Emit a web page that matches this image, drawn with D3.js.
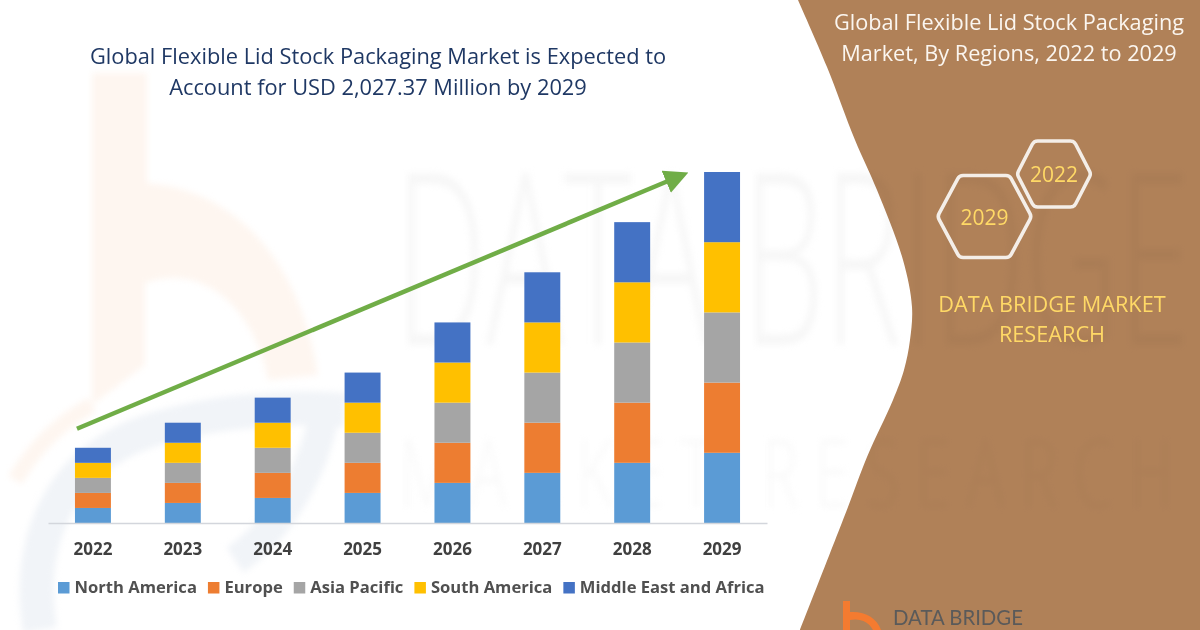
<!DOCTYPE html>
<html>
<head>
<meta charset="utf-8">
<script src="https://cdn.jsdelivr.net/npm/d3@7"></script>
<style>
    html, body { margin: 0; padding: 0; background: #fff; }
    svg { display: block; font-family: "Open Sans", sans-serif; }
</style>
</head>
<body>
<svg id="chart" width="1200" height="630"></svg>
<script>
// values are read off the bar heights, the picture has no value axis
const years = ['2022', '2023', '2024', '2025', '2026', '2027', '2028', '2029']
const northAmerica = [15, 20, 25, 30, 40, 50, 60, 70]
const europe = [15, 20, 25, 30, 40, 50, 60, 70]
const asiaPacific = [15, 20, 25, 30, 40, 50, 60, 70]
const southAmerica = [15, 20, 25, 30, 40, 50, 60, 70]
const middleEastAfrica = [15, 20, 25, 30, 40, 50, 60, 70]
const regions = ['North America', 'Europe', 'Asia Pacific', 'South America', 'Middle East and Africa']
const regionColors = ['#5B9BD5', '#ED7D31', '#A5A5A5', '#FFC000', '#4472C4']
const regionValues = [northAmerica, europe, asiaPacific, southAmerica, middleEastAfrica]
const arrowYears = ['2022', '2029']
const arrowValues = [94, 350]

const titleLines = ['Global Flexible Lid Stock Packaging Market is Expected to', 'Account for USD 2,027.37 Million by 2029']
const panelLines = ['Global Flexible Lid Stock Packaging', 'Market, By Regions, 2022 to 2029']
const brandLines = ['DATA BRIDGE MARKET', 'RESEARCH']

const svg = d3.select('#chart')

// brown panel on the right
const panelEdge = [[798, 0], [827, 67], [855, 140], [877, 190], [903, 260], [912, 307], [910, 340],
    [904, 370], [893, 400], [867, 457], [848, 507], [800, 630]]
const panelLine = d3.line().curve(d3.curveCatmullRom)
svg.append('path')
    .attr('d', panelLine(panelEdge) + 'L1200,630L1200,0Z')
    .attr('fill', '#B08158')

// washed out logo and lettering behind the chart
const mark = svg.append('g').style('mix-blend-mode', 'multiply').style('filter', 'blur(3px)')
mark.append('path')
    .attr('d', 'M92,73H147V183C235,190 300,260 318,375L268,380C255,310 205,262 145,283V365L92,405Z')
    .attr('fill', '#FEF6F0')
mark.append('path')
    .attr('d', 'M15,480Q45,430 92,405')
    .attr('fill', 'none')
    .attr('stroke', '#FEF6F0')
    .attr('stroke-width', 16)
mark.append('path')
    .attr('d', 'M40,630C25,540 60,450 170,425C215,412 290,405 345,410')
    .attr('fill', 'none')
    .attr('stroke', '#F1F4F8')
    .attr('stroke-width', 34)
mark.append('path')
    .attr('d', 'M325,410C315,470 280,530 235,560')
    .attr('fill', 'none')
    .attr('stroke', '#F1F4F8')
    .attr('stroke-width', 30)

const bigWord = mark.append('text')
    .attr('font-size', 240)
    .attr('font-weight', 300)
    .attr('fill', '#F7F7F7')
    .text('DATA BRIDGE')
bigWord.attr('transform', 'translate(395,345) scale(' + 795 / bigWord.node().getComputedTextLength() + ',1)')

const smallWord = mark.append('text')
    .attr('font-size', 94)
    .attr('font-weight', 300)
    .attr('letter-spacing', 26)
    .attr('fill', '#F9F9F9')
    .text('MARKET RESEARCH')
smallWord.attr('transform', 'translate(400,507) scale(' + 790 / smallWord.node().getComputedTextLength() + ',1)')

svg.append('g')
    .selectAll('text')
    .data(titleLines)
    .enter()
    .append('text')
    .attr('x', 378)
    .attr('y', (d, i) => 64 + i * 31)
    .attr('text-anchor', 'middle')
    .attr('font-size', 21.8)
    .attr('fill', '#1F3864')
    .text(d => d)

// stacked bars
const xScale = d3.scaleBand()
    .domain(years)
    .range([48, 767])
    .paddingInner(0.6)
    .paddingOuter(0.3)
const yScale = d3.scaleLinear()
    .domain([0, 350])
    .range([523, 172])

const rows = years.map((year, i) => {
    const row = { year: year }
    regions.forEach((r, j) => { row[r] = regionValues[j][i] })
    return row
})
const stacked = d3.stack().keys(regions)(rows)

svg.append('g')
    .selectAll('g')
    .data(stacked)
    .enter()
    .append('g')
    .attr('fill', (d, i) => regionColors[i])
    .selectAll('rect')
    .data(d => d)
    .enter()
    .append('rect')
    .attr('x', d => xScale(d.data.year))
    .attr('y', d => yScale(d[1]))
    .attr('width', xScale.bandwidth())
    .attr('height', d => yScale(d[0]) - yScale(d[1]))

const xAxis = svg.append('g')
    .attr('transform', 'translate(0,' + yScale(0) + ')')
    .call(d3.axisBottom(xScale).tickSize(0).tickSizeOuter(0))
xAxis.select('.domain').attr('stroke', '#D3D6DC').attr('stroke-width', 1.3)
xAxis.selectAll('text')
    .attr('y', 0)
    .attr('dy', 32)
    .attr('font-family', '"Open Sans", sans-serif')
    .attr('font-size', 17)
    .attr('font-weight', 700)
    .attr('fill', '#404040')

// trend arrow
svg.append('defs')
    .append('marker')
    .attr('id', 'arrowHead')
    .attr('markerUnits', 'userSpaceOnUse')
    .attr('viewBox', '0 0 24 24')
    .attr('markerWidth', 24)
    .attr('markerHeight', 24)
    .attr('refX', 2)
    .attr('refY', 12)
    .attr('orient', 'auto')
    .append('path')
    .attr('d', 'M0,0L24,12L0,24Z')
    .attr('fill', '#70AD47')
svg.append('line')
    .attr('x1', xScale(arrowYears[0]) + 2)
    .attr('y1', yScale(arrowValues[0]))
    .attr('x2', xScale(arrowYears[1]) - 36)
    .attr('y2', yScale(arrowValues[1]) + 9)
    .attr('stroke', '#70AD47')
    .attr('stroke-width', 4.5)
    .attr('marker-end', 'url(#arrowHead)')

// legend, laid out from the measured label widths
const legend = svg.append('g')
let legendX = 58
regions.forEach((r, i) => {
    legend.append('rect')
        .attr('x', legendX)
        .attr('y', 582)
        .attr('width', 11.5)
        .attr('height', 11.5)
        .attr('fill', regionColors[i])
    const label = legend.append('text')
        .attr('x', legendX + 16.5)
        .attr('y', 593)
        .attr('font-size', 16.6)
        .attr('font-weight', 700)
        .attr('fill', '#505050')
        .text(r)
    legendX += 16.5 + label.node().getComputedTextLength() + 11
})

// right panel text
svg.append('g')
    .selectAll('text')
    .data(panelLines)
    .enter()
    .append('text')
    .attr('x', 1009)
    .attr('y', (d, i) => 30 + i * 30.5)
    .attr('text-anchor', 'middle')
    .attr('font-size', 21.7)
    .attr('fill', '#FBF6F0')
    .text(d => d)

function hexagon(cx, cy, rx, ry, inset, corner) {
    const pts = [[cx - rx + inset, cy - ry], [cx + rx - inset, cy - ry], [cx + rx, cy],
        [cx + rx - inset, cy + ry], [cx - rx + inset, cy + ry], [cx - rx, cy]]
    const p = d3.path()
    const start = [(pts[0][0] + pts[1][0]) / 2, cy - ry]
    p.moveTo(start[0], start[1])
    for (let i = 1; i <= 6; i++) {
        const a = pts[i % 6]
        const b = pts[(i + 1) % 6]
        p.arcTo(a[0], a[1], b[0], b[1], corner)
    }
    p.closePath()
    return p.toString()
}

const badges = [
    { label: '2029', cx: 984.5, cy: 216.5, rx: 47, ry: 41, inset: 22 },
    { label: '2022', cx: 1054, cy: 174, rx: 37, ry: 33, inset: 17 }
]
const badge = svg.append('g')
    .selectAll('g')
    .data(badges)
    .enter()
    .append('g')
badge.append('path')
    .attr('d', d => hexagon(d.cx, d.cy, d.rx, d.ry, d.inset, 6))
    .attr('fill', 'none')
    .attr('stroke', '#F4EEE8')
    .attr('stroke-width', 3.6)
badge.append('text')
    .attr('x', d => d.cx)
    .attr('y', d => d.cy + 8)
    .attr('text-anchor', 'middle')
    .attr('font-size', 21)
    .attr('fill', '#FFD966')
    .text(d => d.label)

svg.append('g')
    .selectAll('text')
    .data(brandLines)
    .enter()
    .append('text')
    .attr('x', 1052)
    .attr('y', (d, i) => 312 + i * 30)
    .attr('text-anchor', 'middle')
    .attr('font-size', 21.7)
    .attr('fill', '#FFD966')
    .text(d => d)

// small logo at the bottom edge
const logo = svg.append('g')
logo.append('path')
    .attr('d', 'M843,601H850V612C865,611 877,618 881,630H873C869,622 860,618 850,620V630H843Z')
    .attr('fill', '#F47B30')
const logoWord = logo.append('text')
    .attr('font-family', 'Lato, sans-serif')
    .attr('font-size', 21)
    .attr('fill', '#5A5A5A')
    .text('DATA BRIDGE')
logoWord.attr('transform', 'translate(893,625) scale(' + 130 / logoWord.node().getComputedTextLength() + ',1)')
</script>
</body>
</html>
